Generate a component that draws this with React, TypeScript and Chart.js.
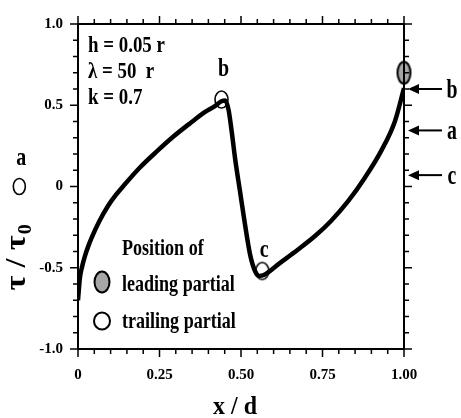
import React, { useEffect, useRef } from 'react';
import { Chart, registerables } from 'chart.js';

Chart.register(...registerables);

// ---- data ----
const curveX = [0, 0.006, 0.013, 0.021, 0.031, 0.043, 0.065, 0.092, 0.115, 0.14, 0.19, 0.245, 0.29, 0.345, 0.39, 0.42, 0.44, 0.452, 0.462, 0.472, 0.482, 0.497, 0.512, 0.528, 0.543, 0.556, 0.57, 0.62, 0.675, 0.727, 0.776, 0.828, 0.88, 0.93, 0.972, 1.0];
const curveY = [-0.70, -0.56, -0.49, -0.43, -0.37, -0.31, -0.215, -0.12, -0.055, 0.005, 0.117, 0.222, 0.303, 0.391, 0.459, 0.495, 0.525, 0.53, 0.47, 0.33, 0.17, -0.03, -0.23, -0.42, -0.52, -0.55, -0.545, -0.47, -0.388, -0.305, -0.212, -0.092, 0.054, 0.219, 0.40, 0.605];

const trailingLabels = ['b', 'c', 'a'];
const trailingX = [0.44, 0.565, -0.18];
const trailingY = [0.535, -0.52, 0.0];

const leadingX = [1.0];
const leadingY = [0.70];

const arrowLabels = ['b', 'a', 'c'];
const arrowY = [0.60, 0.345, 0.07];

const xTickLabels = ['0', '0.25', '0.50', '0.75', '1.00'];
const yTickLabels = ['-1.0', '-0.5', '0', '0.5', '1.0'];

const paramLines = ['h = 0.05 r', 'λ = 50  r', 'k = 0.7'];
const legendTitle = 'Position of';
const legendItems = ['leading partial', 'trailing partial'];

const FONT = '"Liberation Serif", "Times New Roman", serif';
const LABEL_OFFSETS = [-24, -14, -22];

function ellipseCanvas(w: number, h: number, fill: string | null, stroke: string, lw: number) {
  const c = document.createElement('canvas');
  c.width = Math.ceil(w + lw * 2);
  c.height = Math.ceil(h + lw * 2);
  const g = c.getContext('2d')!;
  g.beginPath();
  g.ellipse(c.width / 2, c.height / 2, w / 2, h / 2, 0, 0, Math.PI * 2);
  if (fill) {
    g.fillStyle = fill;
    g.fill();
  }
  g.lineWidth = lw;
  g.strokeStyle = stroke;
  g.stroke();
  return c;
}

function txt(ctx: CanvasRenderingContext2D, s: string, x: number, y: number, size: number, sx = 1, sy = 1, align: CanvasTextAlign = 'left') {
  ctx.save();
  ctx.translate(x, y);
  ctx.scale(sx, sy);
  ctx.font = `bold ${size}px ${FONT}`;
  ctx.textAlign = align;
  ctx.textBaseline = 'alphabetic';
  ctx.fillStyle = '#000';
  ctx.fillText(s, 0, 0);
  ctx.restore();
}

function ellipse(ctx: CanvasRenderingContext2D, cx: number, cy: number, w: number, h: number, fill: string | null, lw: number) {
  ctx.save();
  ctx.beginPath();
  ctx.ellipse(cx, cy, w / 2, h / 2, 0, 0, Math.PI * 2);
  if (fill) {
    ctx.fillStyle = fill;
    ctx.fill();
  }
  ctx.lineWidth = lw;
  ctx.strokeStyle = '#000';
  ctx.stroke();
  ctx.restore();
}

const overlay = {
  id: 'overlay',
  afterDraw(chart: any) {
    const { ctx, chartArea: a, scales } = chart;
    const xs = scales.x;
    const ys = scales.y;
    ctx.save();
    ctx.strokeStyle = '#000';
    ctx.lineWidth = 2;
    ctx.strokeRect(a.left, a.top, a.right - a.left, a.bottom - a.top);

    const seg = (x1: number, y1: number, x2: number, y2: number) => {
      ctx.beginPath();
      ctx.moveTo(x1, y1);
      ctx.lineTo(x2, y2);
      ctx.stroke();
    };
    ctx.lineWidth = 1.5;
    xs.ticks.forEach((t: any) => {
      const px = xs.getPixelForValue(t.value);
      const major = t.label !== '';
      const L = major ? 8 : 5;
      seg(px, a.bottom, px, a.bottom + L);
      seg(px, a.top, px, a.top - L);
    });
    ys.ticks.forEach((t: any) => {
      const py = ys.getPixelForValue(t.value);
      const major = t.label !== '';
      const L = major ? 8 : 5;
      seg(a.left, py, a.left - L, py);
      seg(a.right, py, a.right + L, py);
    });

    // parameters text
    paramLines.forEach((s, i) => txt(ctx, s, a.left + 10, a.top + 28 + i * 26, 21, 0.9, 1.08));

    // trailing positions: labels, and the marker that lies outside the plot area
    trailingLabels.forEach((s, i) => {
      const px = xs.getPixelForValue(trailingX[i]);
      const py = ys.getPixelForValue(trailingY[i]);
      if (px < a.left) ellipse(ctx, px, py, 12, 16, null, 1.6);
      txt(ctx, s, px + 2, py + LABEL_OFFSETS[i], 21, 0.95, 1.15, 'center');
    });

    // arrows on the right
    arrowY.forEach((v, i) => {
      const py = ys.getPixelForValue(v);
      const tip = a.right + 4;
      ctx.lineWidth = 2;
      seg(tip + 8, py, tip + 34, py);
      ctx.beginPath();
      ctx.moveTo(tip, py);
      ctx.lineTo(tip + 11, py - 5);
      ctx.lineTo(tip + 11, py + 5);
      ctx.closePath();
      ctx.fillStyle = '#000';
      ctx.fill();
      txt(ctx, arrowLabels[i], a.right + 48, py + 9, 22, 0.9, 1.25, 'center');
    });

    // legend
    txt(ctx, legendTitle, 122, 255, 22, 0.82, 1.05);
    ellipse(ctx, 102, 282, 15, 21, '#a6a6a6', 2);
    txt(ctx, legendItems[0], 122, 291, 22, 0.82, 1.05);
    ellipse(ctx, 102, 321, 16, 17, null, 2);
    txt(ctx, legendItems[1], 122, 328, 22, 0.82, 1.05);

    // x axis title
    txt(ctx, 'x / d', (a.left + a.right) / 2 - 6, 414, 24, 1, 1.05, 'center');

    // y axis title (rotated)
    ctx.save();
    ctx.translate(25, 258);
    ctx.scale(1.15, 1.25);
    ctx.rotate(-Math.PI / 2);
    ctx.font = `bold 26px ${FONT}`;
    const main = 'τ / τ';
    ctx.textBaseline = 'alphabetic';
    ctx.fillStyle = '#000';
    const mw = ctx.measureText(main).width;
    ctx.font = `bold 16px ${FONT}`;
    const sw = ctx.measureText('0').width;
    const start = -(mw + sw) / 2;
    ctx.font = `bold 26px ${FONT}`;
    ctx.textAlign = 'left';
    ctx.fillText(main, start, 0);
    ctx.font = `bold 16px ${FONT}`;
    ctx.fillText('0', start + mw + 1, 5);
    ctx.restore();

    ctx.restore();
  },
};

export default function App() {
  const ref = useRef<HTMLCanvasElement>(null);
  useEffect(() => {
    const canvas = ref.current!;
    const openEllipse = ellipseCanvas(13, 17, null, '#000', 1.6);
    const grayEllipse = ellipseCanvas(13, 22, '#a6a6a6', '#000', 2);
    const tickFont = { family: FONT, size: 15, weight: 'bold' as const };
    const chart = new Chart(canvas, {
      type: 'line',
      data: {
        datasets: [
          {
            label: 'curve',
            data: curveX.map((x, i) => ({ x, y: curveY[i] })),
            borderColor: '#000',
            borderWidth: 4.5,
            pointRadius: 0,
            cubicInterpolationMode: 'monotone',
            fill: false,
            order: 2,
          } as any,
          {
            label: 'trailing partial',
            type: 'scatter',
            data: trailingX.map((x, i) => ({ x, y: trailingY[i] })),
            pointStyle: openEllipse,
            pointRadius: 8,
            showLine: false,
            clip: false,
            order: 1,
          } as any,
          {
            label: 'leading partial',
            type: 'scatter',
            data: leadingX.map((x, i) => ({ x, y: leadingY[i] })),
            pointStyle: grayEllipse,
            pointRadius: 8,
            showLine: false,
            clip: false,
            order: 1,
          } as any,
        ],
      },
      options: {
        responsive: false,
        animation: false,
        events: [],
        layout: { padding: { left: 8, top: 20, right: 57, bottom: 0 } },
        plugins: { legend: { display: false }, tooltip: { enabled: false } },
        scales: {
          x: {
            type: 'linear',
            min: 0,
            max: 1,
            afterFit: (s: any) => { s.height = 69; },
            grid: { display: false, drawTicks: false },
            border: { display: false },
            ticks: {
              stepSize: 0.05,
              autoSkip: false,
              maxRotation: 0,
              padding: 17,
              color: '#000',
              font: tickFont,
              callback: (v: any) => {
                const k = Math.round(Number(v) / 0.25);
                return Math.abs(Number(v) - k * 0.25) < 1e-6 ? xTickLabels[k] : '';
              },
            },
          },
          y: {
            type: 'linear',
            min: -1,
            max: 1,
            afterFit: (s: any) => { s.width = 70; },
            grid: { display: false, drawTicks: false },
            border: { display: false },
            ticks: {
              stepSize: 0.1,
              autoSkip: false,
              padding: 15,
              color: '#000',
              font: tickFont,
              callback: (v: any) => {
                const k = Math.round((Number(v) + 1) / 0.5);
                return Math.abs(Number(v) + 1 - k * 0.5) < 1e-6 ? yTickLabels[k] : '';
              },
            },
          },
        },
      } as any,
      plugins: [overlay],
    });
    return () => chart.destroy();
  }, []);
  return (
    <div style={{ position: 'fixed', left: 0, top: 0, width: 461, height: 418, background: '#fff' }}>
      <canvas ref={ref} width={461} height={418} style={{ display: 'block' }} />
    </div>
  );
}
